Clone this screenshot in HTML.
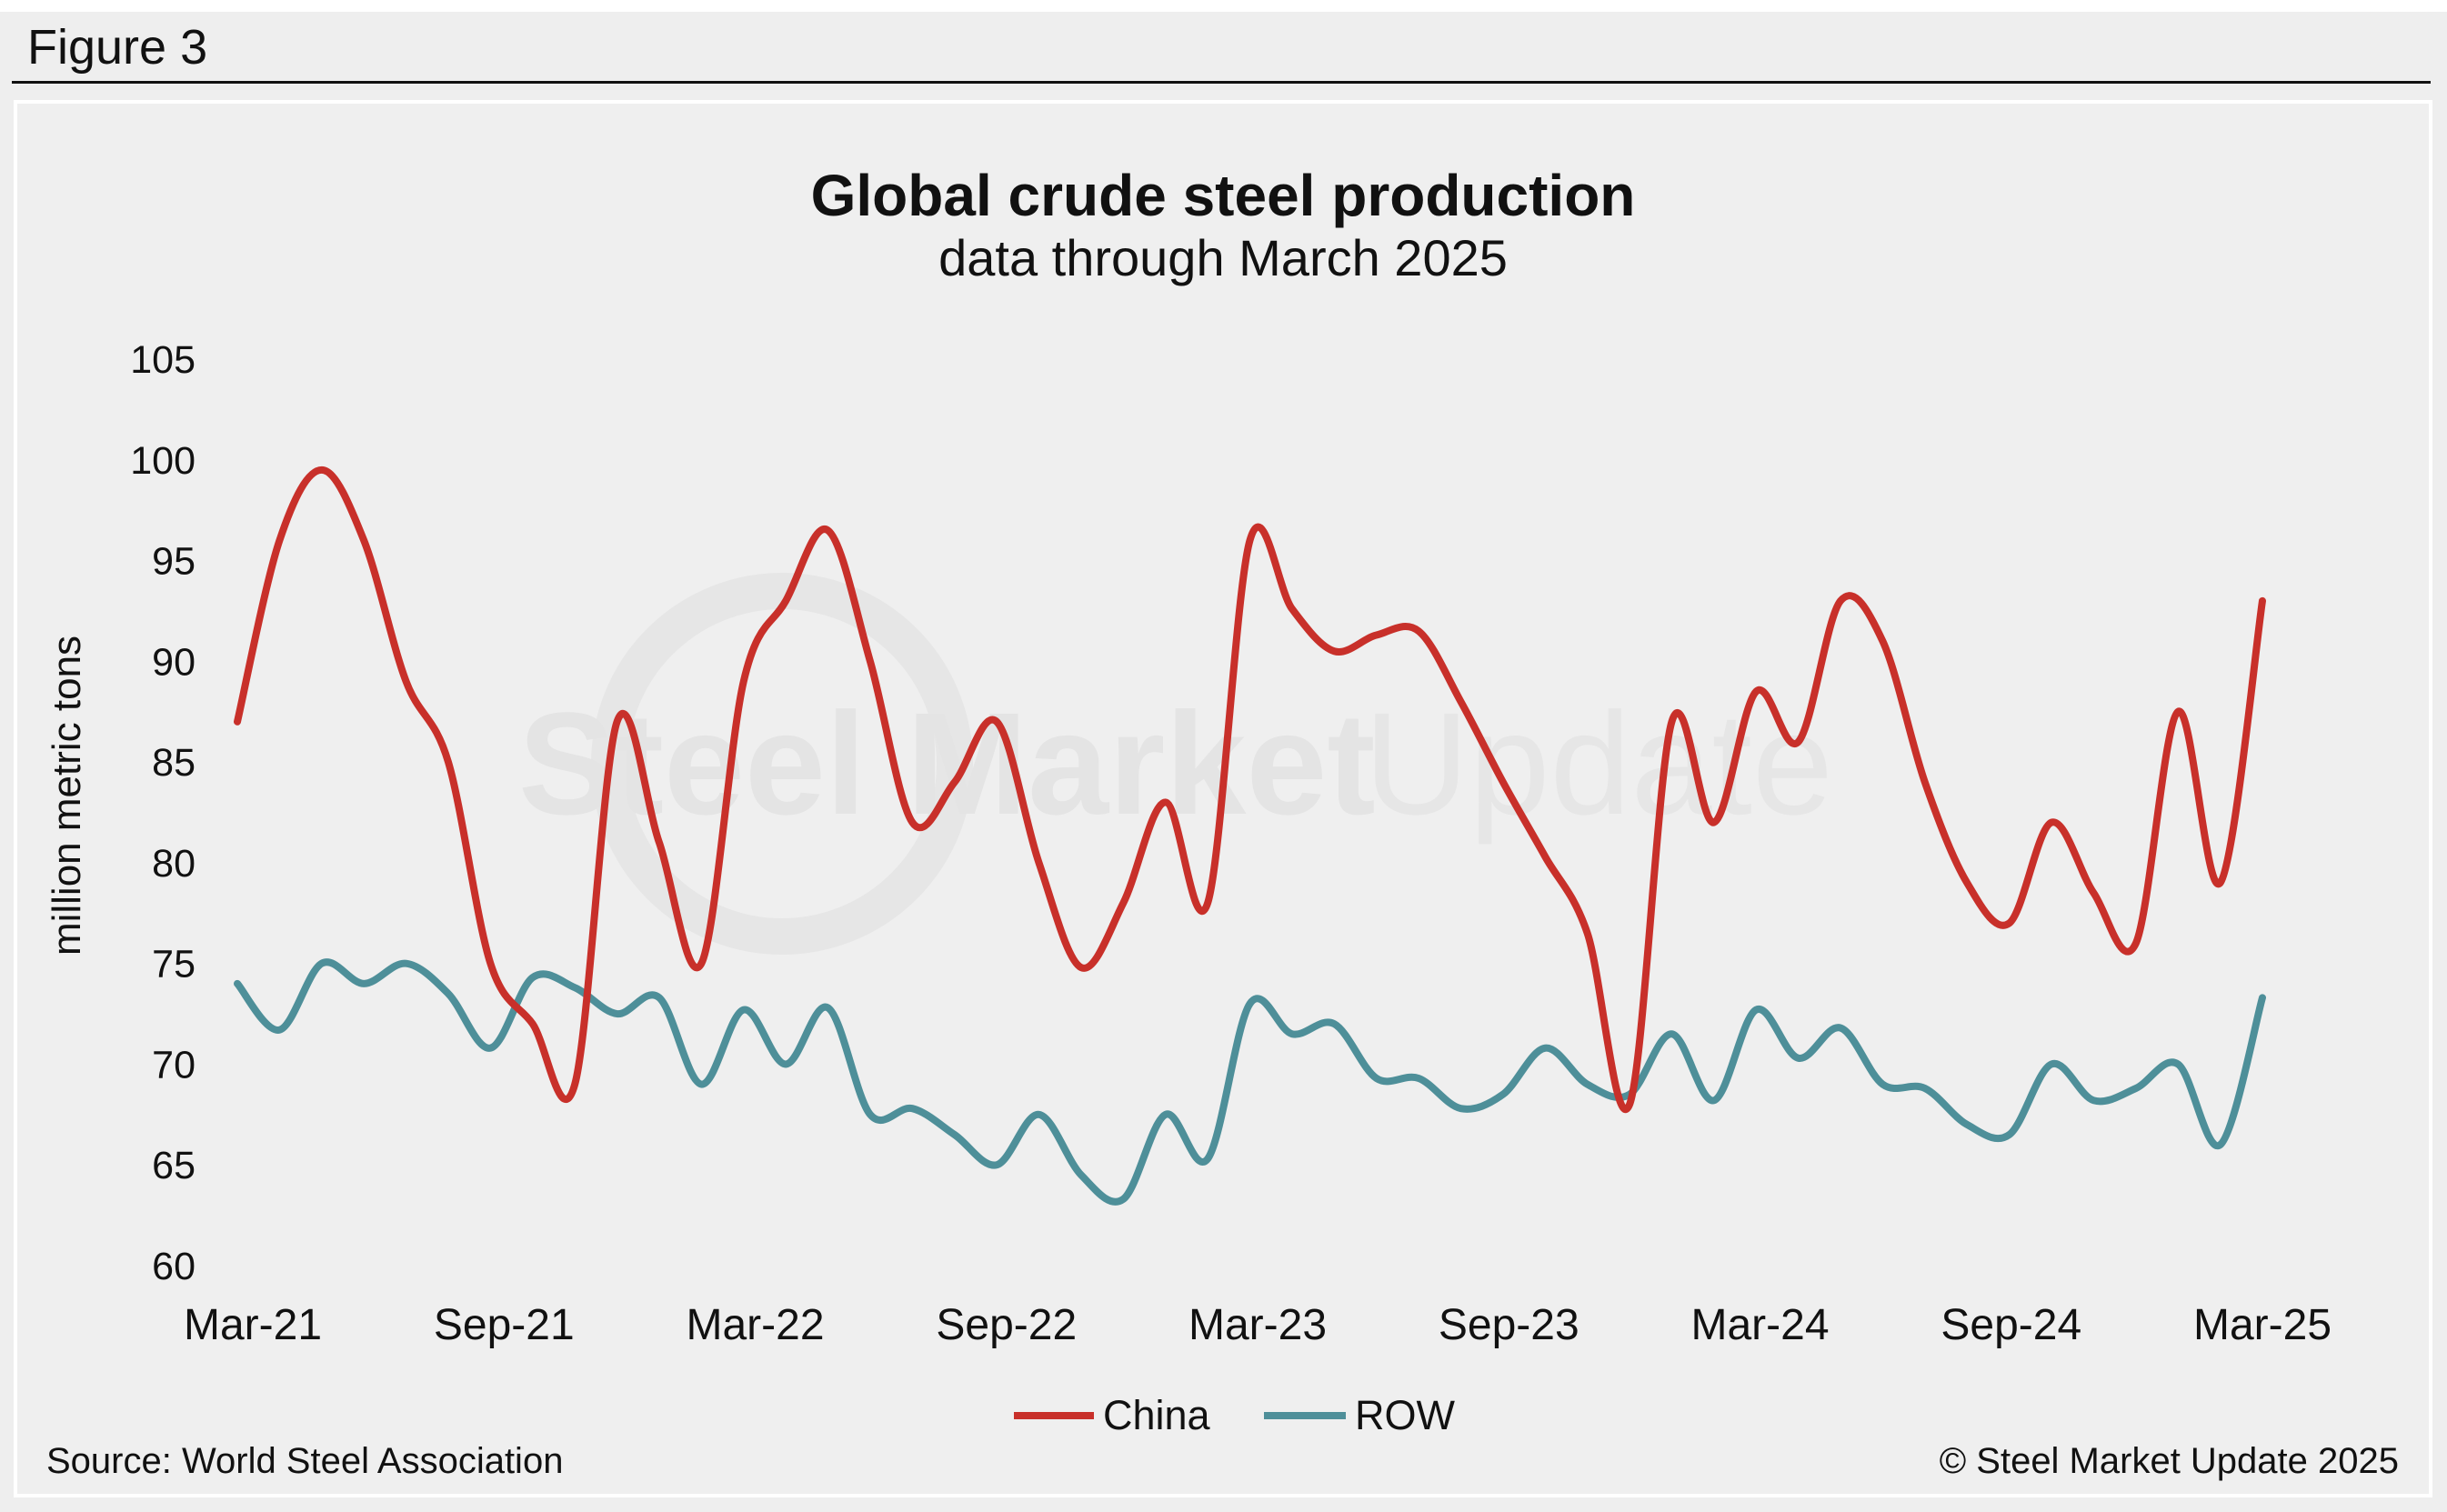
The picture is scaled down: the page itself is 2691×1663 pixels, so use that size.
<!DOCTYPE html>
<html><head><meta charset="utf-8"><style>
html,body{margin:0;padding:0;background:#fff;}
svg{display:block;}
text{font-family:"Liberation Sans",Arial,sans-serif;}
</style></head><body>
<svg id="chart" width="2691" height="1663" viewBox="0 0 2691 1663" xmlns="http://www.w3.org/2000/svg">
<rect x="0" y="13" width="2691" height="1650" fill="#eeeeee"/>
<text x="30" y="70" font-size="54" fill="#111">Figure 3</text>
<rect x="13" y="89" width="2660" height="3" fill="#111"/>
<rect x="17" y="112" width="2656" height="1533" fill="#efefef" stroke="#ffffff" stroke-width="4"/>
<g opacity="1">
<circle cx="860" cy="840" r="190" fill="none" stroke="#e6e6e6" stroke-width="40"/>
<text x="570" y="895" font-size="160" font-weight="bold" fill="#e4e4e4">Steel Market</text>
<text x="1500" y="895" font-size="160" fill="#e6e6e6">Update</text>
</g>
<text x="1345" y="237" text-anchor="middle" font-size="64" font-weight="bold" fill="#111">Global crude steel production</text>
<text x="1345" y="303" text-anchor="middle" font-size="56" fill="#111">data through March 2025</text>
<text transform="translate(88,875) rotate(-90)" text-anchor="middle" font-size="44" fill="#111">million metric tons</text>
<g id="yticks"></g>
<g id="xticks"></g>
<g id="series"></g>
<g>
<line x1="1115" y1="1557" x2="1203" y2="1557" stroke="#c8302a" stroke-width="8"/>
<text x="1213" y="1572" font-size="45" fill="#111">China</text>
<line x1="1390" y1="1557" x2="1480" y2="1557" stroke="#4e8f99" stroke-width="8"/>
<text x="1490" y="1572" font-size="45" fill="#111">ROW</text>
</g>
<text x="51" y="1620" font-size="40" fill="#111">Source: World Steel Association</text>
<text x="2638" y="1620" text-anchor="end" font-size="40" fill="#111">© Steel Market Update 2025</text>
</svg>
<script>
const yTicks=[60,65,70,75,80,85,90,95,100,105];
const xTickLabels=["Mar-21","Sep-21","Mar-22","Sep-22","Mar-23","Sep-23","Mar-24","Sep-24","Mar-25"];
const xTickIndex=[0,6,12,18,24,30,36,42,48];
const chinaValues=[87,96,99.5,96,89,85,75,72,69,87,81,75,89,93,96.5,90,82,84,87,80,74.8,78,83,78,96,92.6,90.5,91.3,91.5,88,84,80.3,76.5,68,87,82,88.5,86,93,91,84,79,77,82,78.5,76,87.5,79,93];
const rowValues=[74,71.7,75,74,75,73.5,70.8,74.3,73.8,72.5,73.3,69,72.7,70,72.8,67.5,67.8,66.5,65,67.5,64.5,63.3,67.5,65.3,73,71.5,72,69.3,69.3,67.8,68.5,70.8,69,68.5,71.5,68.2,72.7,70.3,71.8,69,68.8,67,66.5,70,68.2,68.8,70,66,73.3];
const NS="http://www.w3.org/2000/svg";
const x0=261,x1=2488,yTop=395,yBot=1392,vMin=60,vMax=105;
function xs(i){return x0+(x1-x0)*i/(chinaValues.length-1);}
function ys(v){return yBot-(v-vMin)/(vMax-vMin)*(yBot-yTop);}
const yg=document.getElementById('yticks');
yTicks.forEach(v=>{const t=document.createElementNS(NS,'text');
t.setAttribute('x',215);t.setAttribute('y',ys(v)+15);t.setAttribute('text-anchor','end');t.setAttribute('font-size','43');t.setAttribute('fill','#111');
t.textContent=v;


yg.appendChild(t);});
const xg=document.getElementById('xticks');
xTickLabels.forEach((l,k)=>{const t=document.createElementNS(NS,'text');
const idx=xTickIndex[k];
t.setAttribute('x',xs(idx)+17*(1-idx/48));t.setAttribute('y',1473);t.setAttribute('text-anchor','middle');t.setAttribute('font-size','48');t.setAttribute('fill','#111');
t.textContent=l;


xg.appendChild(t);});
function smooth(vals){const p=vals.map((v,i)=>[xs(i),ys(v)]);let d='M'+p[0][0]+','+p[0][1];
for(let i=0;i<p.length-1;i++){const a=p[i-1]||p[i],b=p[i],c=p[i+1],e=p[i+2]||c;
d+=' C'+(b[0]+(c[0]-a[0])/6)+','+(b[1]+(c[1]-a[1])/6)+' '+(c[0]-(e[0]-b[0])/6)+','+(c[1]-(e[1]-b[1])/6)+' '+c[0]+','+c[1];}return d;}
const sg=document.getElementById('series');
[[rowValues,'#4e8f99','row-line'],[chinaValues,'#c8302a','china-line']].forEach(s=>{const p=document.createElementNS(NS,'path');
p.setAttribute('d',smooth(s[0]));p.setAttribute('fill','none');p.setAttribute('stroke',s[1]);p.setAttribute('stroke-width','8');p.setAttribute('stroke-linejoin','round');p.setAttribute('stroke-linecap','round');


sg.appendChild(p);});
</script>
</body></html>
